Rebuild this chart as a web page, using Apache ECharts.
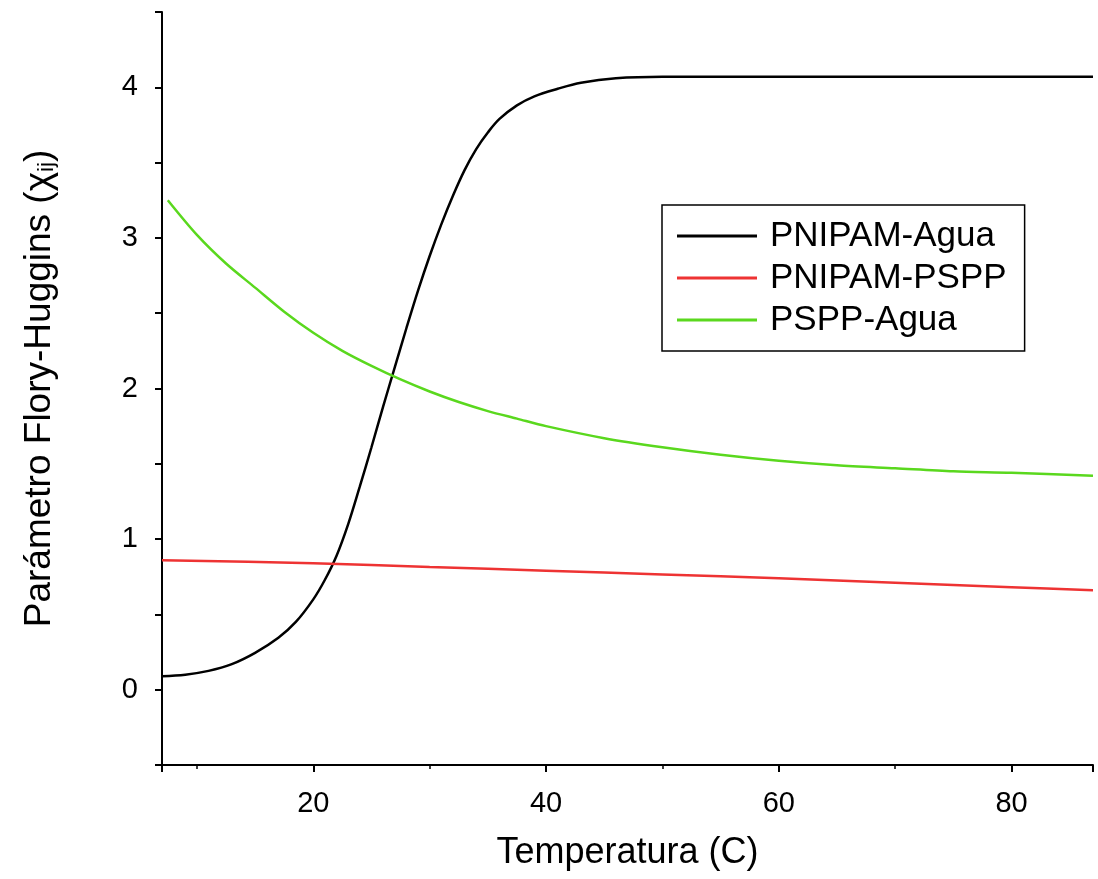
<!DOCTYPE html>
<html>
<head>
<meta charset="utf-8">
<script src="https://cdn.jsdelivr.net/npm/echarts@6/dist/echarts.min.js"></script>
<style>
  html, body { margin: 0; padding: 0; background: #fff; }
  #chart { width: 1098px; height: 879px; }
</style>
</head>
<body>
<div id="chart"></div>
<script>
// Temperatura (C) / parámetro chi
const tempAgua = [7, 9, 11, 13, 15, 17, 18.5, 20, 21, 22, 23, 24, 25, 26, 27, 28, 29, 30, 31, 32, 33, 34, 35, 36, 37.5, 39, 41, 43, 46, 50, 60, 70, 87];
const chiPnipamAgua = [0.09, 0.10, 0.125, 0.17, 0.245, 0.345, 0.45, 0.60, 0.73, 0.89, 1.10, 1.35, 1.61, 1.88, 2.14, 2.40, 2.65, 2.88, 3.09, 3.28, 3.45, 3.59, 3.70, 3.79, 3.88, 3.94, 3.99, 4.03, 4.06, 4.07, 4.07, 4.07, 4.07];

const tempPspp = [7, 20, 30, 40, 50, 60, 70, 80, 87];
const chiPnipamPspp = [0.86, 0.84, 0.815, 0.79, 0.765, 0.74, 0.71, 0.68, 0.66];

const tempPsppAgua = [7.5, 10, 12.5, 15, 17.5, 20, 22.5, 25, 27.5, 30, 32.5, 35, 37.5, 40, 45, 50, 55, 60, 65, 70, 75, 80, 87];
const chiPsppAgua = [3.25, 3.02, 2.83, 2.67, 2.51, 2.37, 2.25, 2.15, 2.06, 1.98, 1.91, 1.85, 1.80, 1.75, 1.67, 1.61, 1.56, 1.52, 1.49, 1.47, 1.45, 1.44, 1.42];

const seriesNames = ['PNIPAM-Agua', 'PNIPAM-PSPP', 'PSPP-Agua'];
const seriesColors = ['#000000', '#ee3333', '#5ad81e'];

const zip = (xs, ys) => xs.map((x, i) => [x, ys[i]]);

const myChart = echarts.init(document.getElementById('chart'));
const font = 'Liberation Sans, Arial, sans-serif';

const option = {
  animation: false,
  backgroundColor: '#fff',
  grid: { left: 162, right: 5, top: 12, bottom: 114 },
  legend: {
    orient: 'vertical',
    left: 662,
    top: 205,
    data: seriesNames,
    icon: 'rect',
    itemWidth: 80,
    itemHeight: 3,
    itemGap: 0,
    padding: [10, 18, 10, 15],
    borderColor: '#000',
    borderWidth: 1.5,
    textStyle: { fontFamily: font, fontSize: 35, color: '#000', lineHeight: 42, padding: [0, 0, 0, 8] }
  },
  xAxis: [
    {
      type: 'value',
      min: 7,
      max: 87,
      splitNumber: 4,
      name: 'Temperatura (C)',
      nameLocation: 'middle',
      nameGap: 70,
      nameTextStyle: { fontFamily: font, fontSize: 36, color: '#000' },
      axisLine: { show: true, onZero: false, lineStyle: { color: '#000', width: 2 } },
      axisTick: { show: true, length: 7, lineStyle: { color: '#000', width: 2 } },
      axisLabel: {
        fontFamily: font, fontSize: 29, color: '#000', margin: 24,
        formatter: v => (v % 20 === 0 ? String(v) : '')
      },
      splitLine: { show: false }
    },
    {
      type: 'value',
      min: 7,
      max: 87,
      splitNumber: 8,
      position: 'bottom',
      axisLine: { show: false, onZero: false },
      axisTick: { show: true, length: 4, lineStyle: { color: '#000', width: 1.5 } },
      axisLabel: { show: false },
      splitLine: { show: false }
    }
  ],
  yAxis: {
    type: 'value',
    min: -0.5,
    max: 4.5,
    interval: 0.5,
    name: '{n|Parámetro Flory-Huggins (χ}{s|ij}{n|)}',
    nameLocation: 'middle',
    nameGap: 104,
    nameTextStyle: {
      rich: {
        n: { fontFamily: font, fontSize: 37, color: '#000' },
        s: { fontFamily: font, fontSize: 22, color: '#000', verticalAlign: 'bottom', padding: [12, 0, 0, 0] }
      }
    },
    axisLine: { show: true, onZero: false, lineStyle: { color: '#000', width: 2 } },
    axisTick: { show: true, length: 7, lineStyle: { color: '#000', width: 2 } },
    axisLabel: {
      fontFamily: font, fontSize: 29, color: '#000', margin: 24,
      formatter: v => (Number.isInteger(v) ? String(v) : '')
    },
    splitLine: { show: false }
  },
  series: [
    {
      name: seriesNames[0], type: 'line', showSymbol: false, smooth: 0.35,
      data: zip(tempAgua, chiPnipamAgua),
      itemStyle: { color: seriesColors[0] },
      lineStyle: { color: seriesColors[0], width: 2.5 }
    },
    {
      name: seriesNames[1], type: 'line', showSymbol: false, smooth: 0.3,
      data: zip(tempPspp, chiPnipamPspp),
      itemStyle: { color: seriesColors[1] },
      lineStyle: { color: seriesColors[1], width: 2.5 }
    },
    {
      name: seriesNames[2], type: 'line', showSymbol: false, smooth: 0.3,
      data: zip(tempPsppAgua, chiPsppAgua),
      itemStyle: { color: seriesColors[2] },
      lineStyle: { color: seriesColors[2], width: 2.5 }
    }
  ]
};

myChart.setOption(option);
window.addEventListener('resize', () => {
  myChart.resize();
});
</script>
</body>
</html>
